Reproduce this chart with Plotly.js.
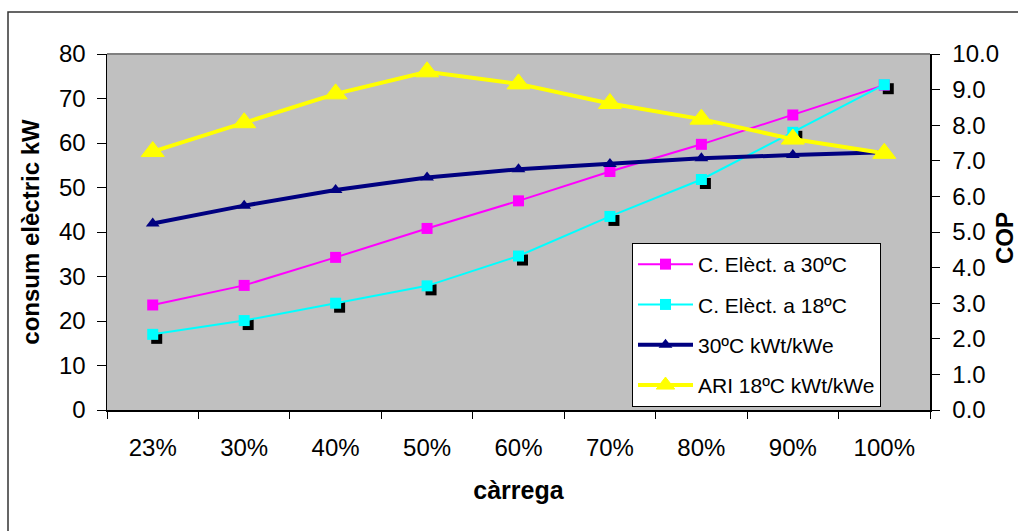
<!DOCTYPE html>
<html>
<head>
<meta charset="utf-8">
<script src="https://cdn.plot.ly/plotly-3.0.1.min.js"></script>
<style>
  html, body { margin: 0; padding: 0; background: #fff; }
  #chart { width: 1018px; height: 531px; }
</style>
</head>
<body>
<div id="chart"></div>
<script>
// Load levels (x categories)
const categories = ['23%', '30%', '40%', '50%', '60%', '70%', '80%', '90%', '100%'];

// Electrical consumption, kW (left axis)
const elec30 = [23.6, 28.0, 34.3, 40.8, 47.0, 53.6, 59.7, 66.3, 73.0];
const elec18 = [17.0, 20.1, 24.0, 27.9, 34.6, 43.5, 51.8, 62.4, 73.1];

// COP, kWt/kWe (right axis)
const cop30 = [5.24, 5.74, 6.18, 6.53, 6.76, 6.91, 7.07, 7.16, 7.24];
const cop18 = [7.26, 8.07, 8.88, 9.50, 9.16, 8.61, 8.17, 7.61, 7.21];

const seriesNames = ['C. Elèct. a 30ºC', 'C. Elèct. a 18ºC', '30ºC kWt/kWe', 'ARI 18ºC kWt/kWe'];

const kwRange = [0, 80];
const copRange = [0, 10];

// Figure geometry
const W = 1018, H = 531;
const M = { l: 107, r: 88, t: 54, b: 121 };
const plotW = W - M.l - M.r;
const plotH = H - M.t - M.b;

// Drop shadow under the 18ºC markers: same data on a hidden pair of axes
// whose ranges are nudged so the marks land a few pixels down and right.
const SHADOW_DX = 4, SHADOW_DY = 4;
const catRange = [-0.5, categories.length - 0.5];
const unitsPerPxX = (catRange[1] - catRange[0]) / plotW;
const unitsPerPxY = (kwRange[1] - kwRange[0]) / plotH;
const shadowXRange = [catRange[0] - SHADOW_DX * unitsPerPxX, catRange[1] - SHADOW_DX * unitsPerPxX];
const shadowYRange = [kwRange[0] + SHADOW_DY * unitsPerPxY, kwRange[1] + SHADOW_DY * unitsPerPxY];

// Category boundaries for the crossing tick marks
const boundaries = categories.map((_, i) => i - 0.5).concat([categories.length - 0.5]);

const FONT = 'Arial, "Liberation Sans", sans-serif';
const TICK_SIZE = 24;
const TITLE_SIZE = 24;

const traces = [
  {
    x: categories, y: elec18, xaxis: 'x', yaxis: 'y',
    mode: 'markers', type: 'scatter', showlegend: false, hoverinfo: 'skip',
    marker: { symbol: 'square', size: 11, color: '#000000' },
    cliponaxis: false
  },
  {
    x: categories, y: elec30, xaxis: 'x2', yaxis: 'y2', name: seriesNames[0],
    legendgroup: 'a', mode: 'lines+markers', type: 'scatter',
    line: { color: '#FF00FF', width: 2 },
    marker: { symbol: 'square', size: 11, color: '#FF00FF' },
    cliponaxis: false
  },
  {
    x: categories, y: elec18, xaxis: 'x2', yaxis: 'y2', name: seriesNames[1],
    legendgroup: 'b', mode: 'lines+markers', type: 'scatter',
    line: { color: '#00FFFF', width: 2 },
    marker: { symbol: 'square', size: 11, color: '#00FFFF' },
    cliponaxis: false
  },
  {
    x: categories, y: cop30, xaxis: 'x2', yaxis: 'y3', name: seriesNames[2],
    legendgroup: 'c', mode: 'lines+markers', type: 'scatter',
    line: { color: '#000080', width: 4 },
    marker: { symbol: 'triangle-up', size: 12, color: '#000080' },
    cliponaxis: false
  },
  {
    x: categories, y: cop18, xaxis: 'x2', yaxis: 'y3', name: seriesNames[3],
    legendgroup: 'd', mode: 'lines+markers', type: 'scatter',
    line: { color: '#FFFF00', width: 4 },
    marker: { symbol: 'triangle-up', size: 20, color: '#FFFF00', line: { color: '#FFFF00', width: 1 } },
    cliponaxis: false
  }
];

const tickFont = { family: FONT, size: TICK_SIZE, color: '#000' };
const titleFont = { family: FONT, size: TITLE_SIZE, color: '#000', weight: 'bold' };

const layout = {
  width: W, height: H,
  margin: { l: M.l, r: M.r, t: M.t, b: M.b, pad: 0 },
  paper_bgcolor: '#FFFFFF',
  plot_bgcolor: '#C0C0C0',
  font: { family: FONT, color: '#000' },
  showlegend: true,
  legend: {
    x: (632 - M.l) / plotW, y: (410 - 243) / plotH,
    xanchor: 'left', yanchor: 'top',
    bgcolor: '#FFFFFF', bordercolor: '#000000', borderwidth: 1,
    font: { family: FONT, size: 21, color: '#000' },
    tracegroupgap: 10, itemwidth: 55, traceorder: 'grouped'
  },
  // hidden axes carrying the marker shadow
  xaxis: {
    type: 'category', categoryarray: categories, categoryorder: 'array',
    range: shadowXRange, visible: false, anchor: 'y', fixedrange: true
  },
  yaxis: {
    range: shadowYRange, visible: false, anchor: 'x', fixedrange: true
  },
  // visible category axis
  xaxis2: {
    overlaying: 'x', anchor: 'y2', side: 'bottom',
    type: 'category', categoryarray: categories, categoryorder: 'array',
    range: catRange, tickson: 'boundaries',
    ticks: 'outside', ticklen: 7, tickwidth: 1, tickcolor: '#000',
    showline: true, linecolor: '#000', linewidth: 1.5,
    showgrid: false, zeroline: false,
    tickfont: tickFont, ticklabelstandoff: 16,
    title: { text: 'càrrega', font: { family: FONT, size: 25, color: '#000', weight: 'bold' }, standoff: 21 }
  },
  // left axis: kW
  yaxis2: {
    overlaying: 'y', anchor: 'x2', side: 'left',
    range: kwRange, dtick: 10, tick0: 0,
    ticks: 'outside', ticklen: 9, tickwidth: 1, tickcolor: '#000',
    showline: true, linecolor: '#000', linewidth: 1.5,
    showgrid: false, zeroline: false,
    tickfont: tickFont, ticklabelstandoff: 6,
    title: { text: 'consum elèctric kW', font: titleFont, standoff: 12 }
  },
  // right axis: COP
  yaxis3: {
    overlaying: 'y', anchor: 'x2', side: 'right',
    range: copRange, dtick: 1, tick0: 0, tickformat: '.1f',
    ticks: 'outside', ticklen: 8, tickwidth: 1, tickcolor: '#000',
    showline: true, linecolor: '#000', linewidth: 1.5,
    showgrid: false, zeroline: false,
    tickfont: tickFont, ticklabelstandoff: 8
  },
  // inner halves of the crossing tick marks
  xaxis3: {
    overlaying: 'x', anchor: 'y2', side: 'bottom',
    range: catRange, tickmode: 'array', tickvals: boundaries,
    ticks: 'inside', ticklen: 8, tickcolor: '#000', showticklabels: false,
    showline: false, showgrid: false, zeroline: false
  },
  yaxis4: {
    overlaying: 'y', anchor: 'x2', side: 'left',
    range: kwRange, dtick: 10, tick0: 0,
    ticks: 'inside', ticklen: 8, tickcolor: '#000', showticklabels: false,
    showline: false, showgrid: false, zeroline: false
  },
  yaxis5: {
    overlaying: 'y', anchor: 'x2', side: 'right',
    range: copRange, dtick: 1, tick0: 0,
    ticks: 'inside', ticklen: 8, tickcolor: '#000', showticklabels: false,
    showline: false, showgrid: false, zeroline: false
  },
  annotations: [
    {
      text: 'COP', xref: 'paper', yref: 'paper',
      x: (1005 - M.l) / plotW, y: (410 - 238) / plotH,
      xanchor: 'center', yanchor: 'middle', textangle: -90,
      showarrow: false, font: titleFont
    }
  ],
  shapes: [
    // grey top edge of the plotting area
    { type: 'line', xref: 'paper', yref: 'paper', x0: 0, x1: 1, y0: 1, y1: 1,
      line: { color: '#808080', width: 2 } },
    // outer chart frame
    { type: 'rect', xref: 'paper', yref: 'paper',
      x0: (8 - M.l) / plotW, x1: (W + 20 - M.l) / plotW,
      y0: (M.t + plotH - (H + 20)) / plotH, y1: (M.t + plotH - 12) / plotH,
      line: { color: '#333333', width: 1.5 }, fillcolor: 'rgba(0,0,0,0)' }
  ]
};

Plotly.newPlot('chart', traces, layout, { displayModeBar: false, staticPlot: true });
</script>
</body>
</html>
